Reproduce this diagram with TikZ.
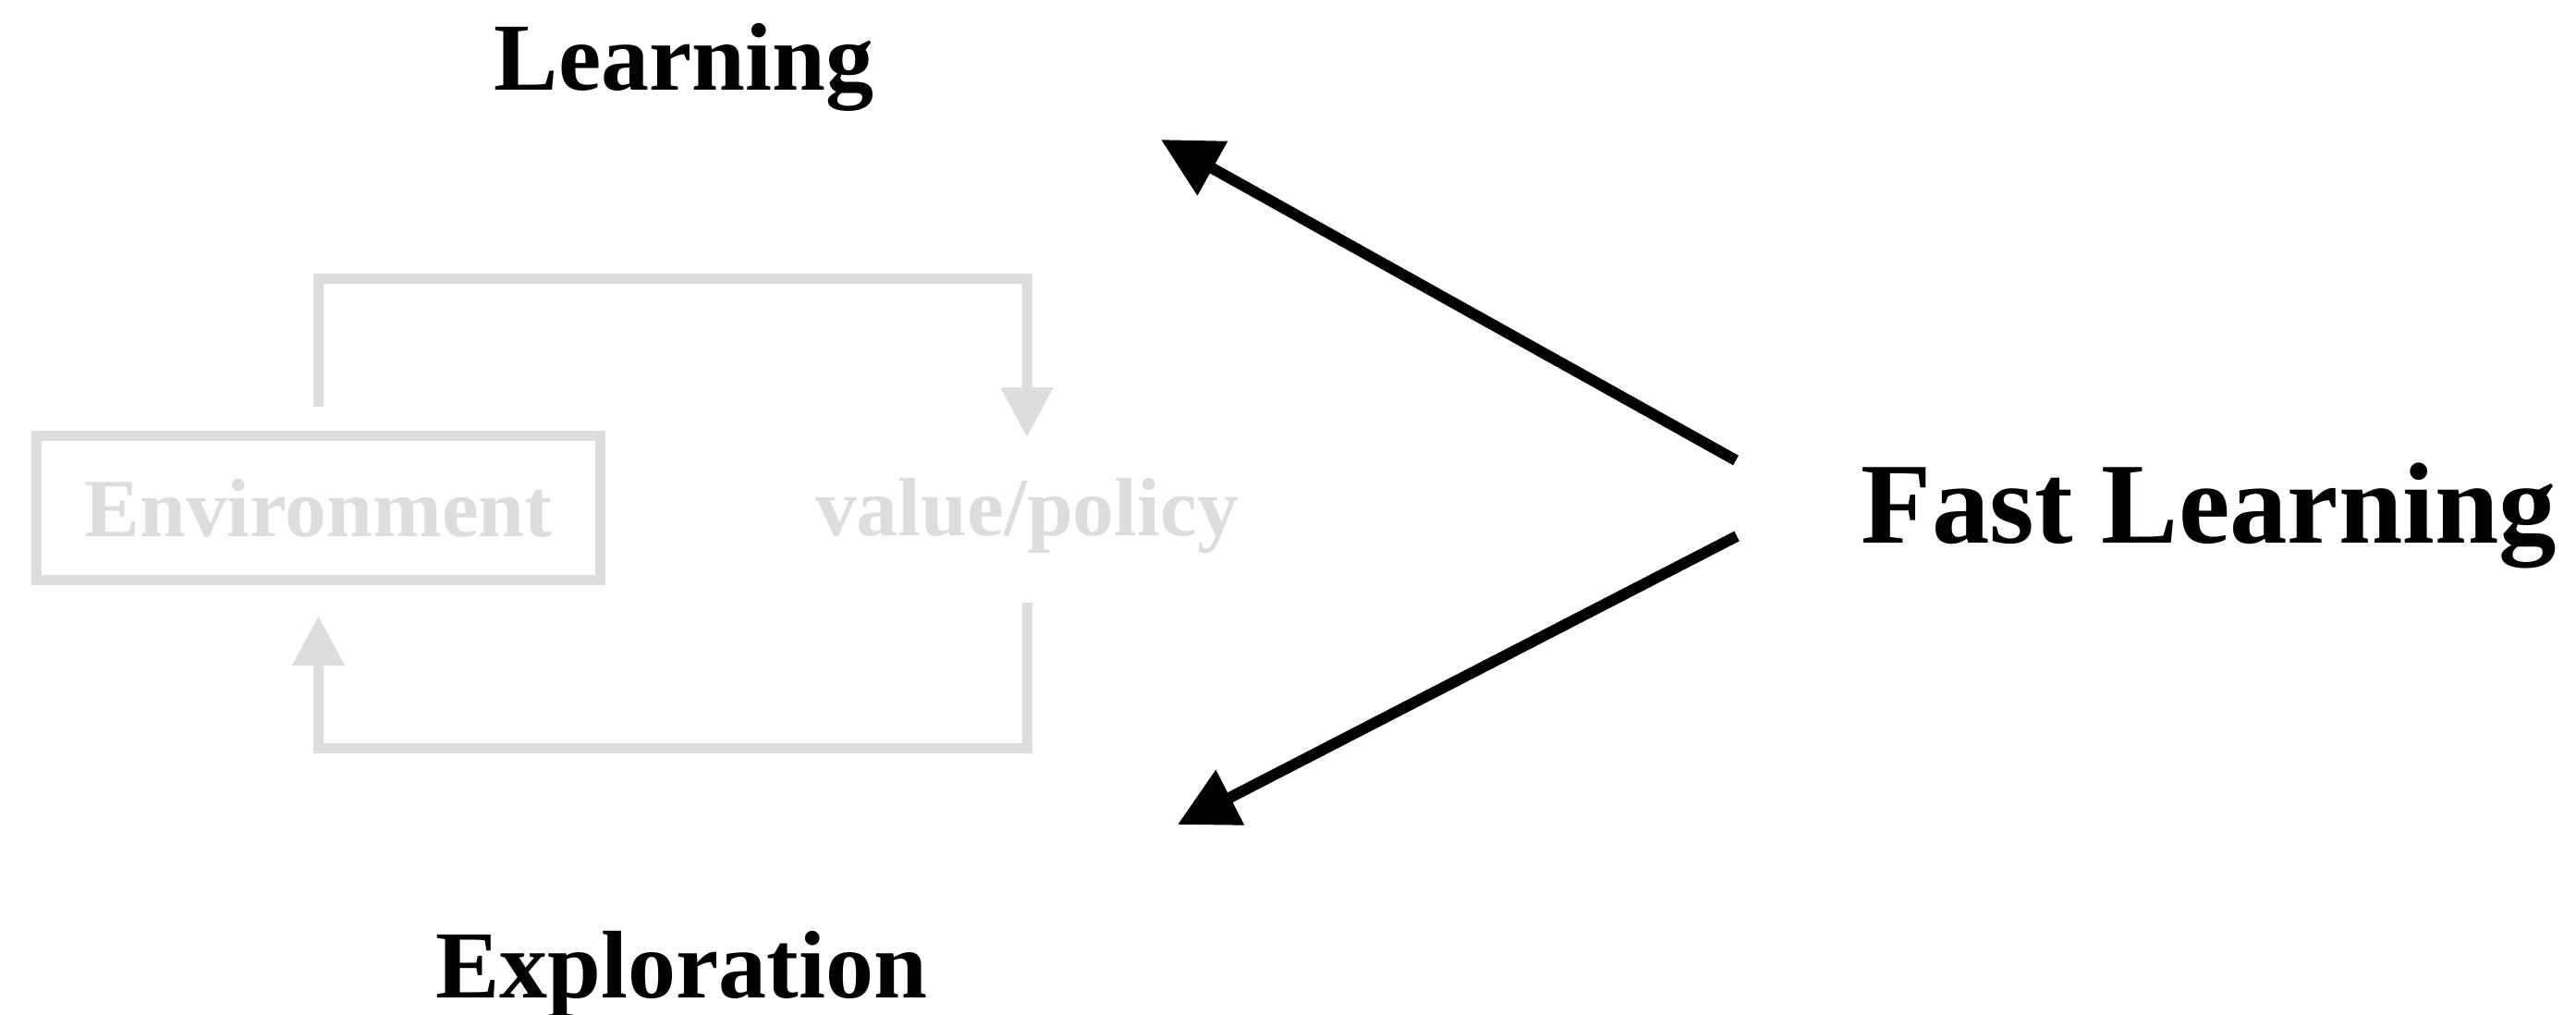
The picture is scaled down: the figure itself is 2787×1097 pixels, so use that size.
\documentclass[tikz,border=0pt]{standalone}
\usepackage{fontspec}
\setmainfont{Liberation Serif}
\usetikzlibrary{arrows.meta}
\definecolor{faint}{HTML}{DDDDDD}
\begin{document}
\begin{tikzpicture}[x=0.25pt,y=-0.25pt,
  title/.style={font=\fontsize{26}{30}\selectfont\bfseries, inner sep=0, anchor=base},
  headline/.style={font=\fontsize{31.2}{36}\selectfont\bfseries, inner sep=0, anchor=base},
  faintlabel/.style={font=\fontsize{22.4}{26}\selectfont\bfseries, text=faint, inner sep=0},
  envbox/.style={faintlabel, draw=faint, line width=2.75pt, minimum width=152.5pt, minimum height=39pt},
  loopline/.style={draw=faint, line width=2.75pt, -{Triangle[length=13.5pt,width=13.5pt]}},
  bigarrow/.style={draw=black, line width=3pt, -{Triangle[length=16pt,width=16pt]}}]
\useasboundingbox (0,0) rectangle (2787,1097);

% titles
\node[title] (learn) at (740,97) {Learning};
\node[title] (explore) at (737,1079) {Exploration};
\node[headline] (fast) at (2390,587) {Fast Learning};

% environment / value-policy loop
\node[envbox] (env) at (344.5,549.5) {Environment};
\node[faintlabel, anchor=base, text height=16.25pt, text depth=4.75pt] (vp) at (1111,579) {value/policy};

\draw[loopline] ([yshift=6.5pt]env.north) -- ++(0,-139) -| ([yshift=10pt]vp.north);
\draw[loopline] ([yshift=-13.25pt]vp.south) -- ++(0,158) -| ([yshift=-8.25pt]env.south);

% arrows out of fast learning
\coordinate (uptip) at (1256,151);
\coordinate (downtip) at (1274,892);
\draw[bigarrow] ([xshift=-33.75pt,yshift=22.25pt]fast.base west) -- (uptip);
\draw[bigarrow] ([xshift=-33.5pt,yshift=1.75pt]fast.base west) -- (downtip);
\end{tikzpicture}
\end{document}
